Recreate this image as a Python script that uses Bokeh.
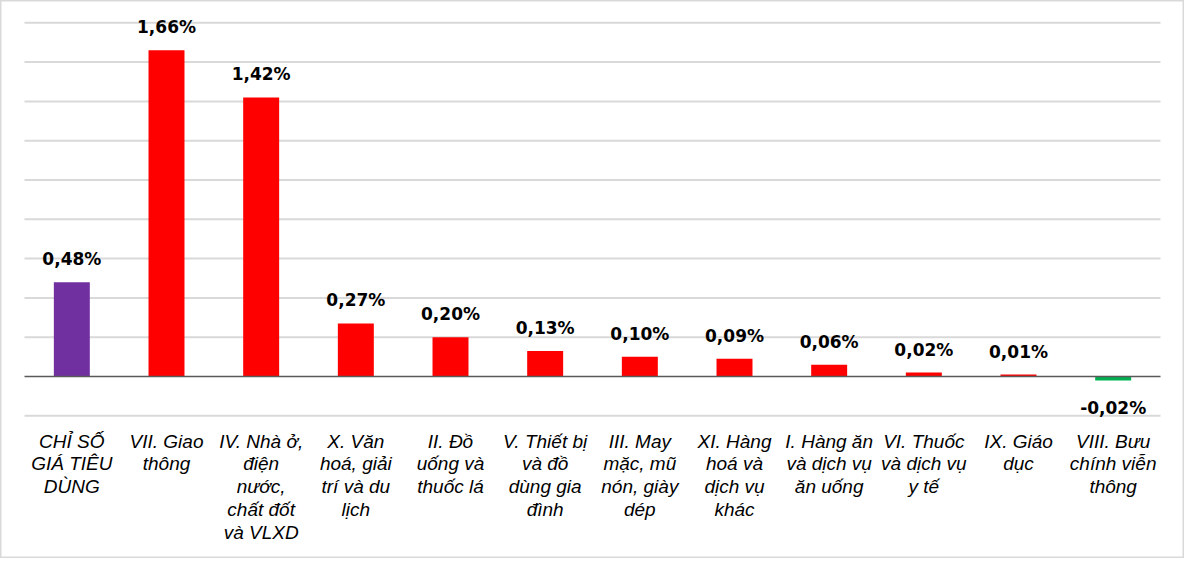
from bokeh.plotting import figure
from bokeh.models import ColumnDataSource, Range1d
from bokeh.core.properties import value
from bokeh.embed import file_html
from bokeh.resources import INLINE

categories = [
    "CHỈ SỐ\nGIÁ TIÊU\nDÙNG",
    "VII. Giao\nthông",
    "IV. Nhà ở,\nđiện\nnước,\nchất đốt\nvà VLXD",
    "X. Văn\nhoá, giải\ntrí và du\nlịch",
    "II. Đồ\nuống và\nthuốc lá",
    "V. Thiết bị\nvà đồ\ndùng gia\nđình",
    "III. May\nmặc, mũ\nnón, giày\ndép",
    "XI. Hàng\nhoá và\ndịch vụ\nkhác",
    "I. Hàng ăn\nvà dịch vụ\năn uống",
    "VI. Thuốc\nvà dịch vụ\ny tế",
    "IX. Giáo\ndục",
    "VIII. Bưu\nchính viễn\nthông",
]
values = [0.48, 1.66, 1.42, 0.27, 0.20, 0.13, 0.10, 0.09, 0.06, 0.02, 0.01, -0.02]
grid_ticks = [-0.2, 0.2, 0.4, 0.6, 0.8, 1.0, 1.2, 1.4, 1.6, 1.8]

PURPLE, RED, GREEN = "#7030A0", "#FF0000", "#00B050"
colors = [PURPLE if i == 0 else (RED if v >= 0 else GREEN) for i, v in enumerate(values)]
xs = [i + 0.5 for i in range(len(values))]
labels = [("%.2f" % v).replace(".", ",") + "%" for v in values]

W, H = 1184, 558
pad = 24 / 94.667
p = figure(width=W, height=H, output_backend="svg", toolbar_location=None,
           x_range=Range1d(-pad, len(values) + pad),
           y_range=Range1d(-0.9262, 1.9135),
           x_axis_location=None, y_axis_location=None,
           min_border=0)
p.grid.visible = False
p.outline_line_color = "#d9d9d9"
p.outline_line_width = 2
p.background_fill_color = "white"
p.border_fill_color = "white"

# gridlines
p.segment(x0=[0] * len(grid_ticks), x1=[len(values)] * len(grid_ticks),
          y0=grid_ticks, y1=grid_ticks, line_color="#d9d9d9", line_width=2)

src = ColumnDataSource(dict(x=xs, top=values, color=colors, label=labels,
                            cat=categories))
p.vbar(x="x", top="top", bottom=0, width=0.38, fill_color="color",
       line_color=None, source=src)

# baseline at zero
p.segment(x0=[0], x1=[len(values)], y0=[0], y1=[0], line_color="#595959",
          line_width=1.5)

pos = ColumnDataSource(dict(x=[x for x, v in zip(xs, values) if v >= 0],
                            y=[v for v in values if v >= 0],
                            t=[l for l, v in zip(labels, values) if v >= 0]))
neg = ColumnDataSource(dict(x=[x for x, v in zip(xs, values) if v < 0],
                            y=[v for v in values if v < 0],
                            t=[l for l, v in zip(labels, values) if v < 0]))
p.text(x="x", y="y", text="t", source=pos, text_align="center",
       text_baseline="alphabetic", y_offset=-23,
       text_font=value("DejaVu Sans"), text_font_style="bold",
       text_font_size="17px", text_color="#000000")
p.text(x="x", y="y", text="t", source=neg, text_align="center",
       text_baseline="alphabetic", y_offset=28,
       text_font=value("DejaVu Sans"), text_font_style="bold",
       text_font_size="17px", text_color="#000000")

# category labels
p.text(x="x", y=-0.275, text="cat", source=src, text_align="center",
       text_baseline="top", text_font=value("Liberation Sans"),
       text_font_style="italic", text_font_size="19px", text_color="#000000",
       text_line_height=1.09)

open("out.html", "w").write(file_html(p, INLINE))
